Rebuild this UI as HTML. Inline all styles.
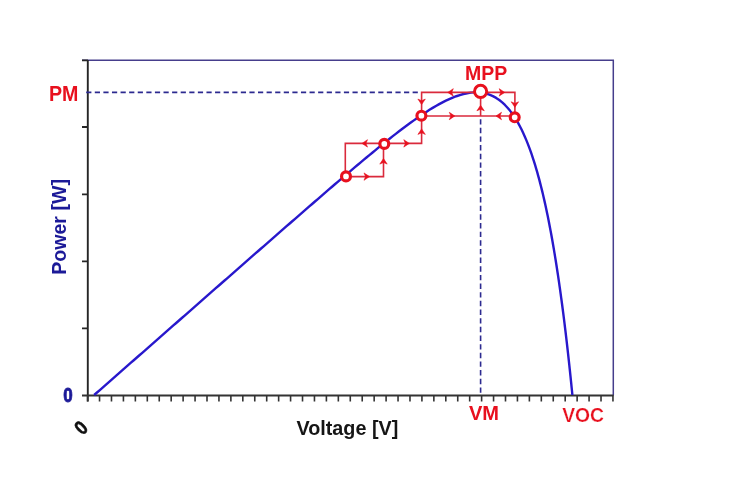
<!DOCTYPE html>
<html><head><meta charset="utf-8"><style>
html,body{margin:0;padding:0;background:#fff;}
svg{display:block;filter:blur(0.35px);}
text{font-family:"Liberation Sans",sans-serif;font-weight:bold;}
</style></head><body>
<svg width="751" height="485" viewBox="0 0 751 485">
<rect width="751" height="485" fill="#fff"/>
<path d="M82,60.3H613.3V395.5" fill="none" stroke="#463e8c" stroke-width="1.5"/>
<path d="M87.8,60V401.5" fill="none" stroke="#262626" stroke-width="1.9"/>
<path d="M82,395.5H613.3" fill="none" stroke="#333" stroke-width="1.9"/>
<path d="M87.60,395V401.5M99.54,395V401.5M111.48,395V401.5M123.42,395V401.5M135.36,395V401.5M147.30,395V401.5M159.24,395V401.5M171.18,395V401.5M183.12,395V401.5M195.06,395V401.5M207.00,395V401.5M218.94,395V401.5M230.88,395V401.5M242.82,395V401.5M254.76,395V401.5M266.70,395V401.5M278.64,395V401.5M290.58,395V401.5M302.52,395V401.5M314.46,395V401.5M326.40,395V401.5M338.34,395V401.5M350.28,395V401.5M362.22,395V401.5M374.16,395V401.5M386.10,395V401.5M398.04,395V401.5M409.98,395V401.5M421.92,395V401.5M433.86,395V401.5M445.80,395V401.5M457.74,395V401.5M469.68,395V401.5M481.62,395V401.5M493.56,395V401.5M505.50,395V401.5M517.44,395V401.5M529.38,395V401.5M541.32,395V401.5M553.26,395V401.5M565.20,395V401.5M577.14,395V401.5M589.08,395V401.5M601.02,395V401.5M612.96,395V401.5" fill="none" stroke="#333" stroke-width="1.6"/>
<path d="M82,60.3H88M82,127H88M82,194.4H88M82,261.4H88M82,328.3H88" fill="none" stroke="#262626" stroke-width="1.8"/>
<path d="M86.2,92.4H421" fill="none" stroke="#2c2a90" stroke-width="1.6" stroke-dasharray="5.2,3.39"/>
<path d="M480.6,119.15V395.5" fill="none" stroke="#2c2a90" stroke-width="1.6" stroke-dasharray="5.4,3.253"/>
<path d="M94.17,395.00 L97.00,392.51 L99.82,390.03 L102.65,387.55 L105.48,385.06 L108.31,382.58 L111.14,380.10 L113.96,377.61 L116.79,375.13 L119.62,372.64 L122.45,370.16 L125.28,367.68 L128.11,365.19 L130.93,362.71 L133.76,360.23 L136.59,357.74 L139.42,355.26 L142.25,352.78 L145.08,350.29 L147.90,347.81 L150.73,345.33 L153.56,342.84 L156.39,340.36 L159.22,337.88 L162.05,335.39 L164.88,332.91 L167.70,330.43 L170.53,327.94 L173.36,325.46 L176.19,322.98 L179.02,320.49 L181.85,318.01 L184.67,315.53 L187.50,313.04 L190.33,310.56 L193.16,308.08 L195.99,305.60 L198.82,303.11 L201.65,300.63 L204.48,298.15 L207.30,295.66 L210.13,293.18 L212.96,290.70 L215.79,288.22 L218.62,285.73 L221.45,283.25 L224.28,280.77 L227.11,278.29 L229.94,275.81 L232.77,273.32 L235.60,270.84 L238.43,268.36 L241.26,265.88 L244.09,263.40 L246.92,260.92 L249.75,258.44 L252.58,255.95 L255.41,253.47 L258.24,250.99 L261.07,248.51 L263.91,246.03 L266.74,243.56 L269.57,241.08 L272.40,238.60 L275.24,236.12 L278.07,233.64 L280.90,231.17 L283.74,228.69 L286.57,226.21 L289.41,223.74 L292.24,221.26 L295.08,218.79 L297.92,216.32 L300.76,213.84 L303.60,211.37 L306.44,208.90 L309.28,206.43 L312.12,203.97 L314.96,201.50 L317.81,199.04 L320.65,196.57 L323.50,194.11 L326.35,191.65 L329.20,189.19 L332.05,186.74 L334.91,184.28 L337.76,181.83 L340.62,179.38 L343.48,176.94 L346.35,174.50 L349.21,172.06 L352.08,169.62 L354.96,167.19 L357.83,164.77 L360.72,162.34 L363.60,159.93 L366.49,157.52 L369.39,155.11 L372.29,152.71 L375.20,150.32 L378.11,147.94 L381.03,145.57 L383.96,143.20 L386.90,140.85 L389.85,138.51 L392.80,136.18 L395.77,133.87 L398.75,131.57 L401.74,129.28 L404.75,127.02 L407.77,124.77 L410.81,122.55 L413.86,120.35 L416.94,118.19 L420.04,116.05 L423.16,113.95 L426.31,111.88 L429.48,109.86 L432.69,107.89 L435.93,105.98 L439.21,104.13 L442.53,102.35 L445.89,100.66 L449.30,99.07 L452.76,97.59 L456.27,96.24 L459.84,95.04 L463.47,94.02 L467.14,93.21 L470.86,92.65 L474.61,92.36 L478.38,92.39 L482.12,92.77 L485.81,93.51 L489.40,94.63 L492.86,96.11 L496.16,97.92 L499.27,100.03 L502.21,102.39 L504.95,104.96 L507.53,107.70 L509.94,110.60 L512.20,113.60 L514.32,116.71 L516.32,119.90 L518.21,123.15 L520.00,126.47 L521.70,129.83 L523.31,133.23 L524.85,136.66 L526.32,140.13 L527.72,143.62 L529.07,147.13 L530.36,150.67 L531.61,154.22 L532.81,157.79 L533.97,161.37 L535.08,164.96 L536.16,168.57 L537.21,172.18 L538.22,175.81 L539.21,179.44 L540.16,183.08 L541.09,186.73 L542.00,190.38 L542.88,194.04 L543.73,197.71 L544.57,201.38 L545.38,205.05 L546.18,208.73 L546.96,212.41 L547.72,216.10 L548.46,219.79 L549.19,223.48 L549.90,227.18 L550.60,230.88 L551.28,234.58 L551.95,238.28 L552.61,241.99 L553.25,245.70 L553.88,249.41 L554.50,253.12 L555.11,256.83 L555.71,260.55 L556.30,264.27 L556.88,267.99 L557.45,271.71 L558.01,275.43 L558.56,279.15 L559.11,282.88 L559.64,286.60 L560.17,290.33 L560.69,294.06 L561.20,297.79 L561.70,301.52 L562.20,305.25 L562.69,308.98 L563.17,312.71 L563.64,316.45 L564.11,320.18 L564.58,323.92 L565.03,327.65 L565.49,331.39 L565.93,335.13 L566.37,338.86 L566.81,342.60 L567.24,346.34 L567.66,350.08 L568.08,353.82 L568.49,357.56 L568.90,361.31 L569.31,365.05 L569.71,368.79 L570.10,372.53 L570.50,376.28 L570.88,380.02 L571.27,383.76 L571.64,387.51 L572.02,391.25 L572.39,395.00" fill="none" stroke="#2818cc" stroke-width="2.4" stroke-linejoin="round"/>
<path d="M345.3,176.6V143.4H421.6V116M345.8,176.6H383.5V144M421.6,116V92.4H514.9V117M421.6,116H514.9M480.6,116V92" fill="none" stroke="#da2a3c" stroke-width="1.6"/>
<polygon points="362.00,143.40 367.50,139.70 365.90,143.40 367.50,147.10" fill="#e8101e" stroke="#e8101e" stroke-width="0.6" stroke-linejoin="round"/><polygon points="369.50,176.60 364.00,180.30 365.60,176.60 364.00,172.90" fill="#e8101e" stroke="#e8101e" stroke-width="0.6" stroke-linejoin="round"/><polygon points="383.50,158.60 387.20,164.10 383.50,162.50 379.80,164.10" fill="#e8101e" stroke="#e8101e" stroke-width="0.6" stroke-linejoin="round"/><polygon points="409.30,143.40 403.80,147.10 405.40,143.40 403.80,139.70" fill="#e8101e" stroke="#e8101e" stroke-width="0.6" stroke-linejoin="round"/><polygon points="421.60,128.90 425.30,134.40 421.60,132.80 417.90,134.40" fill="#e8101e" stroke="#e8101e" stroke-width="0.6" stroke-linejoin="round"/><polygon points="421.60,104.60 417.90,99.10 421.60,100.70 425.30,99.10" fill="#e8101e" stroke="#e8101e" stroke-width="0.6" stroke-linejoin="round"/><polygon points="447.80,92.40 453.30,88.70 451.70,92.40 453.30,96.10" fill="#e8101e" stroke="#e8101e" stroke-width="0.6" stroke-linejoin="round"/><polygon points="454.80,116.00 449.30,119.70 450.90,116.00 449.30,112.30" fill="#e8101e" stroke="#e8101e" stroke-width="0.6" stroke-linejoin="round"/><polygon points="480.60,105.30 484.30,110.80 480.60,109.20 476.90,110.80" fill="#e8101e" stroke="#e8101e" stroke-width="0.6" stroke-linejoin="round"/><polygon points="504.70,92.40 499.20,96.10 500.80,92.40 499.20,88.70" fill="#e8101e" stroke="#e8101e" stroke-width="0.6" stroke-linejoin="round"/><polygon points="514.90,107.30 511.20,101.80 514.90,103.40 518.60,101.80" fill="#e8101e" stroke="#e8101e" stroke-width="0.6" stroke-linejoin="round"/><polygon points="496.00,116.00 501.50,112.30 499.90,116.00 501.50,119.70" fill="#e8101e" stroke="#e8101e" stroke-width="0.6" stroke-linejoin="round"/>
<g fill="#fff" stroke="#e8101e" stroke-width="3.2">
<circle cx="346" cy="176.4" r="4.45"/>
<circle cx="384.3" cy="143.9" r="4.45"/>
<circle cx="421.4" cy="115.7" r="4.45"/>
<circle cx="514.7" cy="117.3" r="4.45"/>
<circle cx="480.6" cy="91.4" r="6.1" stroke-width="3"/>
</g>
<text transform="matrix(0.19632,0,0,0.21739,48.876,100.550)" font-size="100" fill="#e8101e">PM</text><text transform="matrix(0.19515,0,0,0.20580,464.884,79.950)" font-size="100" fill="#e8101e">MPP</text><text transform="matrix(0.20070,0,0,0.20290,468.949,420.350)" font-size="100" fill="#e8101e">VM</text><text transform="matrix(0.19343,0,0,0.20563,562.157,421.744)" font-size="100" fill="#e8101e" stroke="#fff" stroke-width="1.2">VOC</text><text transform="matrix(0.17021,0,0,0.20141,63.169,402.149)" font-size="100" fill="#1c1a98" stroke="#1c1a98" stroke-width="4">0</text><text transform="matrix(0.19783,0,0,0.19362,296.452,435.284)" font-size="100" fill="#151515">Voltage [V]</text><text transform="matrix(0,-0.19601,0.19468,0,65.962,274.822)" font-size="100" fill="#1c1a98">Power [W]</text>
<text transform="translate(80.9,427.9) rotate(-45) scale(0.172,0.2) translate(-27.5,34.5)" font-size="100" fill="#111" stroke="#111" stroke-width="3">0</text>
</svg>
</body></html>
